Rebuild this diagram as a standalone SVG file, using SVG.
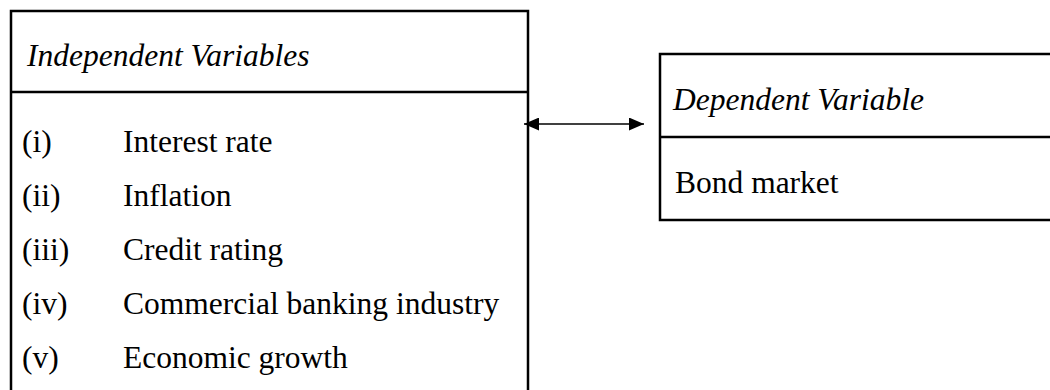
<svg xmlns="http://www.w3.org/2000/svg" width="1050" height="390" viewBox="0 0 1050 390">
  <style>
    .box { fill: none; stroke: #000; stroke-width: 2.5; }
    .txt { font-family: "Liberation Serif", "Times New Roman", serif; font-size: 31.5px; fill: #000; }
    .it { font-style: italic; }
    .conn { stroke: #000; stroke-width: 1.4; fill: none; }
  </style>
  <defs>
    <marker id="ah" viewBox="0 0 15 13" refX="15" refY="6.5" markerWidth="15" markerHeight="13" markerUnits="userSpaceOnUse" orient="auto-start-reverse">
      <path d="M0,0 L15,6.5 L0,13 Z" fill="#000"/>
    </marker>
  </defs>
  <rect width="1050" height="390" fill="#fff"/>
  <g id="independent">
    <path class="box" d="M11,400 V11 H528 V400 M11,92 H528"/>
    <text class="txt it" x="27" y="66">Independent Variables</text>
    <text class="txt" x="22" y="152">(i)</text>
    <text class="txt" x="123" y="152">Interest rate</text>
    <text class="txt" x="22" y="206">(ii)</text>
    <text class="txt" x="123" y="206">Inflation</text>
    <text class="txt" x="22" y="260">(iii)</text>
    <text class="txt" x="123" y="260">Credit rating</text>
    <text class="txt" x="22" y="314">(iv)</text>
    <text class="txt" x="123" y="314">Commercial banking industry</text>
    <text class="txt" x="22" y="368">(v)</text>
    <text class="txt" x="123" y="368">Economic growth</text>
  </g>
  <g id="dependent">
    <path class="box" d="M1060,54 H660 V220 H1060 M660,137 H1060"/>
    <text class="txt it" x="673" y="110">Dependent Variable</text>
    <text class="txt" x="675" y="193">Bond market</text>
  </g>
  <g id="connectors">
    <line class="conn" x1="524" y1="124" x2="644" y2="124" marker-start="url(#ah)" marker-end="url(#ah)"/>
  </g>
</svg>
